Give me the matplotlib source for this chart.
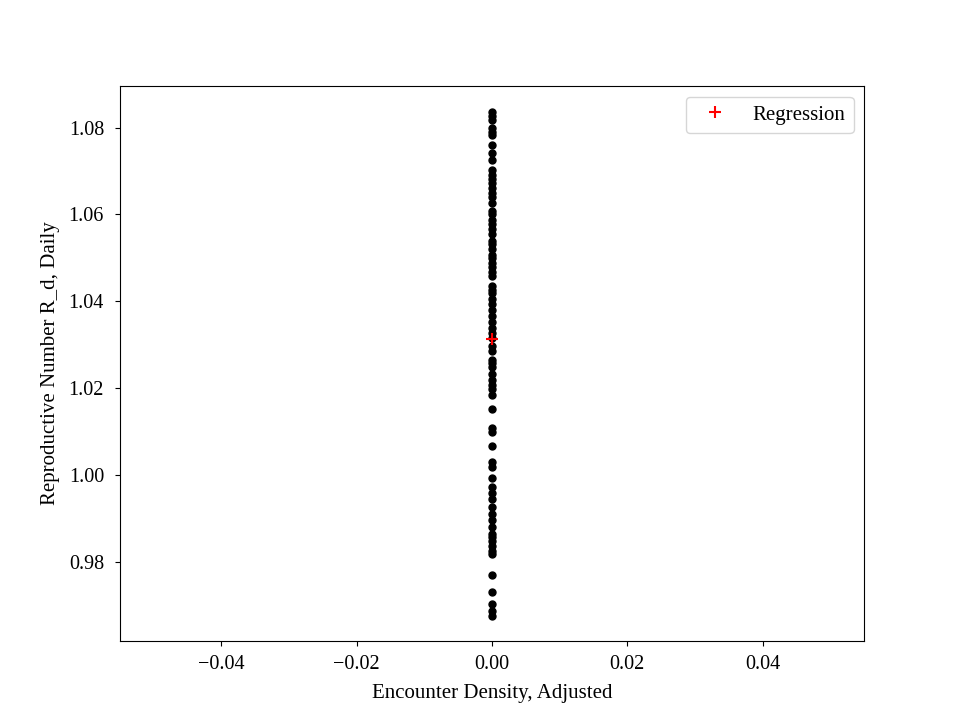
import numpy as np
import matplotlib
matplotlib.use("Agg")
import matplotlib.pyplot as plt

plt.rcParams['font.family'] = ['Liberation Serif', 'DejaVu Serif']
plt.rcParams['mathtext.fontset'] = 'stix'

# adjusted encounter density (all zero) and daily reproductive number
r_daily = [1.0837, 1.0828, 1.0818, 1.0800, 1.0791, 1.0782, 1.0761, 1.0742,
           1.0726, 1.0703, 1.0692, 1.0682, 1.0673, 1.0662, 1.0650, 1.0641,
           1.0627, 1.0609, 1.0600, 1.0588, 1.0579, 1.0567, 1.0556, 1.0540,
           1.0533, 1.0521, 1.0507, 1.0500, 1.0489, 1.0480, 1.0468, 1.0459,
           1.0436, 1.0427, 1.0418, 1.0406, 1.0394, 1.0381, 1.0367, 1.0353,
           1.0339, 1.0328, 1.0316, 1.0298, 1.0286, 1.0265, 1.0259, 1.0249,
           1.0233, 1.0219, 1.0208, 1.0199, 1.0185, 1.0153, 1.0109, 1.0100,
           1.0067, 1.0030, 1.0019, 0.9994, 0.9973, 0.9959, 0.9945, 0.9927,
           0.9911, 0.9897, 0.9881, 0.9865, 0.9858, 0.9848, 0.9837, 0.9825,
           0.9818, 0.9770, 0.9731, 0.9703, 0.9687, 0.9676]
density = [0.0] * len(r_daily)

reg_x = [0.0]
reg_y = [1.0314]

fig, ax = plt.subplots(figsize=(9.6, 7.2), dpi=100)
ax.plot(density, r_daily, 'ko', markersize=5.0, linestyle='none')
ax.plot(reg_x, reg_y, 'r+', markersize=9, markeredgewidth=1.5, label='Regression')
ax.set_xlabel('Encounter Density, Adjusted', fontsize=15, labelpad=7)
ax.set_ylabel('Reproductive Number R_d, Daily', fontsize=15, labelpad=6)
ax.tick_params(labelsize=14.5)
ax.tick_params(axis='x', pad=7)
ax.tick_params(axis='y', pad=8)
ax.legend(loc='upper right', fontsize=15)

fig.savefig('out.png', dpi=100)
